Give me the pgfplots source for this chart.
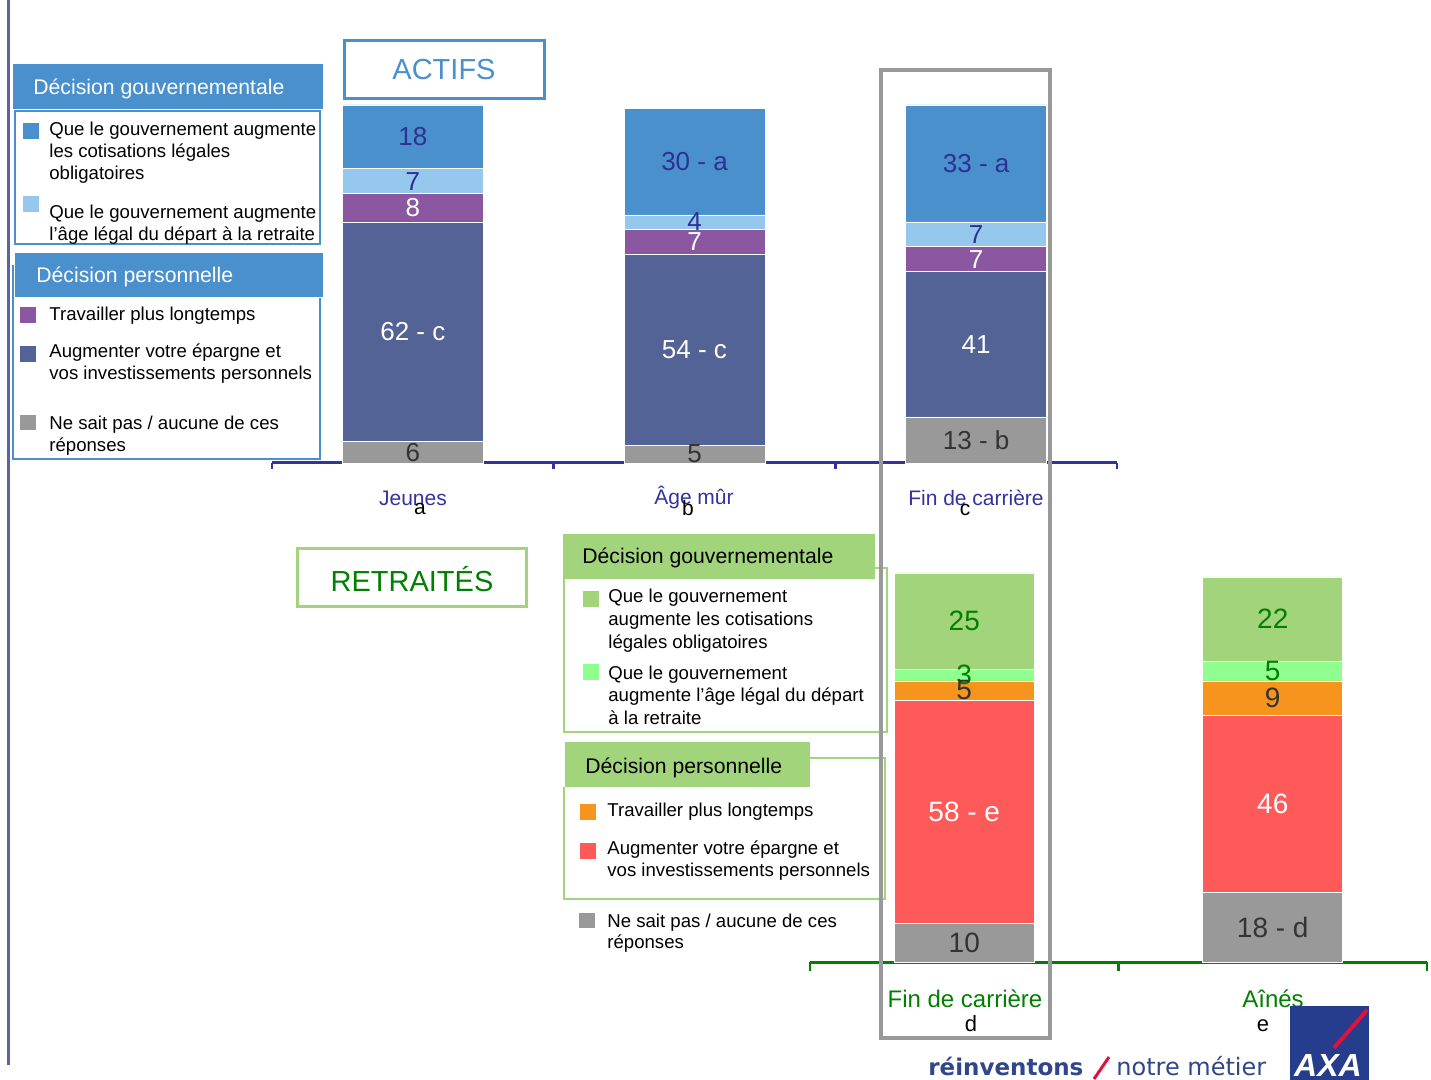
\documentclass[border=0pt]{standalone}
\usepackage{pgfplots}
\pgfplotsset{compat=1.18}
\usepackage{fontspec}
\setmainfont{Liberation Sans}
\newfontfamily\dejavu{DejaVu Sans}

\definecolor{cotis}{HTML}{4A90CD}
\definecolor{agelegal}{HTML}{95C8EC}
\definecolor{travail}{HTML}{8B57A0}
\definecolor{epargne}{HTML}{536396}
\definecolor{nsp}{HTML}{999999}
\definecolor{vert}{HTML}{A1D47B}
\definecolor{vertclair}{HTML}{8FFF8F}
\definecolor{orange}{HTML}{F7941D}
\definecolor{rouge}{HTML}{FF5A5A}
\definecolor{axblue}{HTML}{33339F}
\definecolor{txtblue}{HTML}{2E3192}
\definecolor{dkgreen}{HTML}{008000}
\definecolor{dktxt}{HTML}{333333}
\definecolor{slate}{HTML}{5A63A3}
\definecolor{footer}{HTML}{30468A}
\definecolor{axa}{HTML}{263C8C}
\definecolor{axared}{HTML}{E0113C}

\newcommand\lf{\fontsize{9.3}{11}\selectfont}
\newcommand\hf{\fontsize{10.6}{12}\selectfont}
\newcommand\cf{\fontsize{10.5}{12}\selectfont}

\pgfplotsset{
  stackbars/.style={
    scale only axis, ybar stacked, ymin=0, ymax=101,
    axis x line*=bottom, axis y line=none, ytick=\empty,
    xticklabels={}, tick align=outside, major tick length=3pt,
    clip=false,
    point meta=explicit symbolic,
    nodes near coords,
    % with anchor=center the labels sit in the middle of each segment
    every node near coord/.append style={anchor=center,
      font=\fontsize{13}{13}\selectfont},
  },
}

\begin{document}
\begin{tikzpicture}[x=0.5pt,y=-0.5pt]
\useasboundingbox (0,0) rectangle (1431,1080);

% left rule
\draw[slate, line width=1.5pt] (8,0) -- (8,1065);

% ---------- ACTIFS ----------
\begin{axis}[stackbars,
  at={(136pt,-231.5pt)}, anchor=south west,
  width=422.5pt, height=179pt,
  xmin=-0.5, xmax=2.5, bar width=0.5,
  xtick={-0.5,0.5,1.5,2.5},
  x axis line style={draw=axblue, line width=1.5pt, -},
  xtick style={draw=axblue, line width=1.2pt},
]
\addplot[fill=nsp, draw=white, line width=0.3pt, every node near coord/.append style={text=dktxt}]
  coordinates {(0,6) [6] (1,5) [5] (2,13) [13 - b]};
\addplot[fill=epargne, draw=white, line width=0.3pt, every node near coord/.append style={text=white}]
  coordinates {(0,62) [62 - c] (1,54) [54 - c] (2,41) [41]};
\addplot[fill=travail, draw=white, line width=0.3pt, every node near coord/.append style={text=white}]
  coordinates {(0,8) [8] (1,7) [7] (2,7) [7]};
\addplot[fill=agelegal, draw=white, line width=0.3pt, every node near coord/.append style={text=txtblue}]
  coordinates {(0,7) [7] (1,4) [4] (2,7) [7]};
\addplot[fill=cotis, draw=white, line width=0.3pt, every node near coord/.append style={text=txtblue}]
  coordinates {(0,18) [18] (1,30) [30 - a] (2,33) [33 - a]};
\end{axis}

% ---------- RETRAITES ----------
\begin{axis}[stackbars,
  at={(405pt,-481pt)}, anchor=south west,
  width=308.5pt, height=194.5pt,
  xmin=-0.5, xmax=1.5, bar width=0.454,
  xtick={-0.5,0.5,1.5},
  major tick length=4.5pt,
  x axis line style={draw=dkgreen, line width=1.5pt, -},
  xtick style={draw=dkgreen, line width=1.2pt},
  every node near coord/.append style={font=\fontsize{14}{14}\selectfont},
]
\addplot[fill=nsp, draw=white, line width=0.3pt, every node near coord/.append style={text=dktxt}]
  coordinates {(0,10) [10] (1,18) [18 - d]};
\addplot[fill=rouge, draw=white, line width=0.3pt, every node near coord/.append style={text=white}]
  coordinates {(0,58) [58 - e] (1,46) [46]};
\addplot[fill=orange, draw=white, line width=0.3pt, every node near coord/.append style={text=dktxt}]
  coordinates {(0,5) [5] (1,9) [9]};
\addplot[fill=vertclair, draw=white, line width=0.3pt, every node near coord/.append style={text=dkgreen}]
  coordinates {(0,3) [3] (1,5) [5]};
\addplot[fill=vert, draw=white, line width=0.3pt, every node near coord/.append style={text=dkgreen}]
  coordinates {(0,25) [25] (1,22) [22]};
\end{axis}

% category labels
\begin{scope}[every node/.style={anchor=base, inner sep=0pt, font=\cf}]
\node[text=axblue] at (413,506) {Jeunes};
\node at (420,515) {a};
\node[text=axblue] at (694,505) {Âge mûr};
\node at (688,516) {b};
\node[text=axblue] at (976,506) {Fin de carrière};
\node at (965,516) {c};
\node[text=dkgreen, font=\fontsize{12}{12}\selectfont] at (965,1007) {Fin de carrière};
\node[font=\fontsize{11}{11}\selectfont] at (971,1031) {d};
\node[text=dkgreen, font=\fontsize{12}{12}\selectfont] at (1273,1007) {Aînés};
\node[font=\fontsize{11}{11}\selectfont] at (1263,1031) {e};
\end{scope}

% titles
\draw[cotis, line width=1.5pt] (344,41) rectangle (544,99);
\node[text=cotis, font=\fontsize{14.5}{15}\selectfont] at (444,70) {ACTIFS};
\draw[vert, line width=1.5pt] (297,549) rectangle (526,607);
\node[text=dkgreen, font=\fontsize{14.5}{15}\selectfont] at (412,579) {RETRAITÉS};

% legend ACTIFS
\fill[cotis] (13,64) rectangle (323,109);
\node[anchor=base west, inner sep=0pt, text=white, font=\hf] at (33,95) {Décision gouvernementale};
\draw[cotis, line width=1pt] (15,111) rectangle (320,244);
\fill[cotis] (23,123) rectangle (39,139);
\fill[agelegal] (23,196) rectangle (39,212);
\fill[cotis] (15,253) rectangle (323,297);
\node[anchor=base west, inner sep=0pt, text=white, font=\hf] at (36,283) {Décision personnelle};
\draw[cotis, line width=1pt] (13,265) -- (13,459) -- (320,459) -- (320,298);
\fill[travail] (20,307) rectangle (36,323);
\fill[epargne] (20,346) rectangle (36,362);
\fill[nsp] (20,415) rectangle (36,430);
\begin{scope}[every node/.style={anchor=base west, inner sep=0pt, font=\lf}]
\node at (49,136) {Que le gouvernement augmente};
\node at (49,158) {les cotisations légales};
\node at (49,180) {obligatoires};
\node at (49,219) {Que le gouvernement augmente};
\node at (49,241) {l’âge légal du départ à la retraite};
\node at (49,321) {Travailler plus longtemps};
\node at (49,358) {Augmenter votre épargne et};
\node at (49,380) {vos investissements personnels};
\node at (49,430) {Ne sait pas / aucune de ces};
\node at (49,452) {réponses};
\end{scope}

% legend RETRAITES
\fill[vert] (563,534) rectangle (875,579);
\node[anchor=base west, inner sep=0pt, font=\hf] at (582,564) {Décision gouvernementale};
\draw[vert, line width=1.2pt] (564,579) -- (564,732) -- (887,732) -- (887,568) -- (875,568);
\fill[vert] (583,591) rectangle (599,607);
\fill[vertclair] (583,664) rectangle (599,680);
\fill[vert] (565,742) rectangle (810,787);
\node[anchor=base west, inner sep=0pt, font=\hf] at (585,773) {Décision personnelle};
\draw[vert, line width=1.2pt] (564,787) -- (564,899) -- (885,899) -- (885,758) -- (810,758);
\fill[orange] (580,804) rectangle (596,820);
\fill[rouge] (580,843) rectangle (596,859);
\fill[nsp] (579,913) rectangle (595,928);
\begin{scope}[every node/.style={anchor=base west, inner sep=0pt, font=\lf}]
\node at (608,603) {Que le gouvernement};
\node at (608,625) {augmente les cotisations};
\node at (608,648) {légales obligatoires};
\node at (608,680) {Que le gouvernement};
\node at (608,702) {augmente l’âge légal du départ};
\node at (608,725) {à la retraite};
\node at (607,816) {Travailler plus longtemps};
\node at (607,854) {Augmenter votre épargne et};
\node at (607,876) {vos investissements personnels};
\node at (607,927) {Ne sait pas / aucune de ces};
\node at (607,948) {réponses};
\end{scope}

% highlight frame
\draw[nsp, line width=2pt] (881,70) rectangle (1050,1038);

% footer
\node[anchor=base west, inner sep=0pt, text=footer, font=\dejavu\bfseries\fontsize{11.5}{12}\selectfont] at (928,1075) {réinventons};
\draw[axared, line width=1.5pt] (1094,1079) -- (1109,1057);
\node[anchor=base west, inner sep=0pt, text=footer, font=\dejavu\fontsize{12}{12}\selectfont] at (1116,1075) {notre métier};
\fill[axa] (1290,1006) rectangle (1369,1080);
\node[anchor=base, inner sep=0pt, text=white, font=\bfseries\itshape\fontsize{16}{16}\selectfont] at (1328,1076) {AXA};
\draw[axared, line width=2pt] (1367,1010) -- (1334,1048);
\end{tikzpicture}
\end{document}
